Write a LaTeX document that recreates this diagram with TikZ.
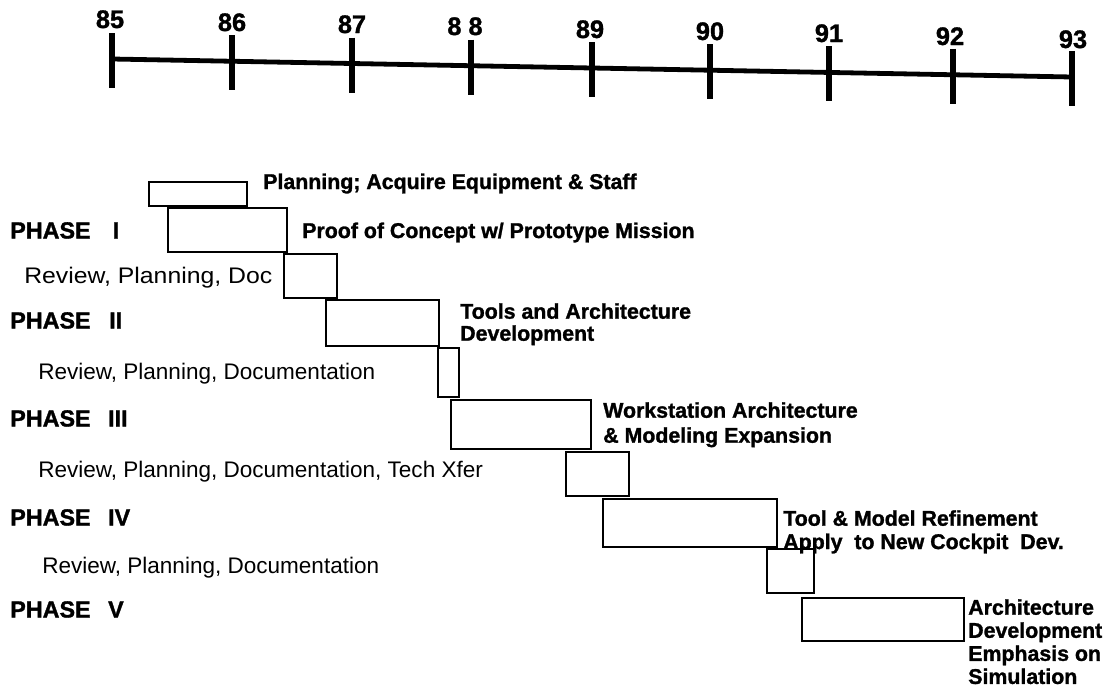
\documentclass[tikz,border=0pt]{standalone}
\usepackage{fontspec}
\setmainfont{Liberation Sans}[BoldFeatures={FakeBold=1.3}]
\usepackage{graphicx}
\begin{document}
\begin{tikzpicture}[x=0.75pt,y=-0.75pt,
  bar/.style={draw=black, line width=2.2pt},
  axisline/.style={line width=3.6pt},
  tickmark/.style={line width=4pt},
  lbl/.style={font=\fontsize{16}{19}\selectfont\bfseries, inner sep=0pt, anchor=base west},
  phase/.style={font=\fontsize{17.5}{19}\selectfont\bfseries, inner sep=0pt, anchor=base west},
  lblm/.style={font=\fontsize{16}{16.5}\selectfont\bfseries, inner sep=0pt, anchor=north west, align=left},
  rev/.style={font=\fontsize{16.9}{20}\selectfont, inner sep=0pt, anchor=base west},
  yr/.style={font=\fontsize{19}{20}\selectfont\bfseries, inner sep=0pt, anchor=base},
]
\useasboundingbox[fill=white] (0,0) rectangle (1109,696);

% timeline
\foreach \n/\x/\y in {85/112/59, 86/232/61.25, 87/352/63.5, 88/471/65.7, 89/592/68, 90/710/70.2, 91/829/72.4, 92/953/74.8, 93/1072/77}{
  \coordinate (t\n) at (\x,\y);
  \draw[tickmark] (\x,\y-26) -- (\x,\y+29);
}
\draw[axisline] (t85) -- (t93);

\node[yr] (y85) at (110,28) {85};
\node[yr] (y86) at (232,31) {86};
\node[yr] (y87) at (352,33) {87};
\node[yr] (y88) at (465,35) {8 8};
\node[yr] (y89) at (590,38) {89};
\node[yr] (y90) at (710,40) {90};
\node[yr] (y91) at (829,42) {91};
\node[yr] (y92) at (950,45) {92};
\node[yr] (y93) at (1073,48) {93};

% bars
\draw[bar] (149,182) rectangle (247,206);
\draw[bar] (168,208) rectangle (287,252);
\draw[bar] (284,254) rectangle (337,298);
\draw[bar] (326,300) rectangle (439,346);
\draw[bar] (438,348) rectangle (459,397);
\draw[bar] (451,400) rectangle (591,449);
\draw[bar] (566,452) rectangle (629,496);
\draw[bar] (603,499) rectangle (777,547);
\draw[bar] (767,549) rectangle (814,593);
\draw[bar] (802,598) rectangle (964,641);

% task labels
\node[lbl] (plan) at (263,189) {Planning; Acquire Equipment \& Staff};
\node[lbl] (proof) at (302,238) {Proof of Concept w/ Prototype Mission};
\node[lblm] (tools) at (460,303) {Tools and Architecture\\Development};
\node[lblm, font=\fontsize{16}{18.75}\selectfont\bfseries] (work) at (603,402) {Workstation Architecture\\\& Modeling Expansion};
\node[lblm, font=\fontsize{16}{17.5}\selectfont\bfseries] (refine) at (783,510) {Tool \& Model Refinement\\Apply\ \ to New Cockpit\ \ Dev.};
\node[lblm, font=\fontsize{16}{17.3}\selectfont\bfseries] (arch) at (968,599) {Architecture\\Development\\Emphasis on\\Simulation};

% phase labels
\node[phase] (p1) at (10,238.5) {PHASE\hspace{0.95em}I};
\node[rev] (r1) at (24,283.5) {\scalebox{1.1}[1]{Review, Planning, Doc}};
\node[phase] (p2) at (10,328.5) {PHASE\hspace{0.8em}II};
\node[rev] (r2) at (38,379.5) {Review, Planning, Documentation};
\node[phase] (p3) at (10,426.5) {PHASE\hspace{0.75em}III};
\node[rev] (r3) at (38,477.5) {Review, Planning, Documentation, Tech Xfer};
\node[phase] (p4) at (10,525.5) {PHASE\hspace{0.75em}IV};
\node[rev] (r4) at (42,573.5) {Review, Planning, Documentation};
\node[phase] (p5) at (10,617.5) {PHASE\hspace{0.75em}V};
\end{tikzpicture}
\end{document}
